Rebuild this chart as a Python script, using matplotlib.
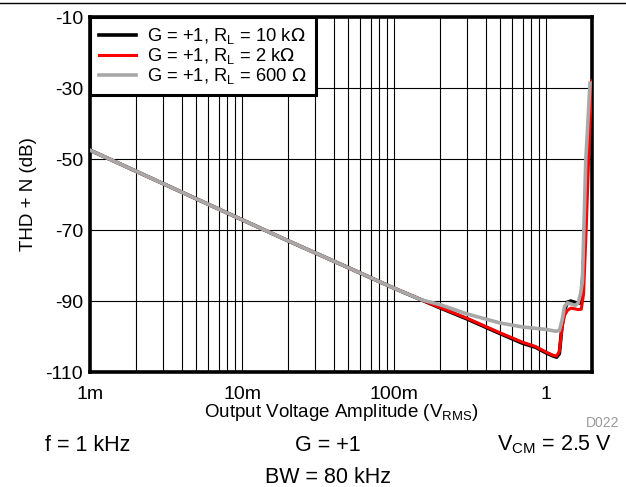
import matplotlib
matplotlib.use('Agg')
import matplotlib.pyplot as plt
from matplotlib.ticker import LogLocator, NullFormatter
import numpy as np

plt.rcParams['font.family'] = ['Liberation Sans', 'DejaVu Sans']
plt.rcParams['axes.unicode_minus'] = False

# common low-level part (all three loads overlap)
v_common = [0.001, 0.002, 0.005, 0.01, 0.02, 0.05, 0.1, 0.15]
thd_common = [-47.5, -53.4, -61.2, -67.1, -73.0, -80.6, -86.4, -89.6]

# R_L = 10 kOhm
v_10k = [0.2, 0.3, 0.5, 0.7, 0.85, 1.0, 1.1, 1.17, 1.22, 1.27, 1.32, 1.38, 1.45, 1.55, 1.62, 1.7, 1.78, 1.86, 1.94, 2.0]
thd_10k = [-91.9, -95.0, -99.2, -101.9, -103.0, -104.6, -105.4, -105.8, -104.8, -97.0, -92.5, -90.3, -90.0, -90.4, -90.6, -90.5, -75.0, -52.0, -34.0, -28.5]

# R_L = 2 kOhm
v_2k = [0.2, 0.3, 0.5, 0.7, 0.85, 1.0, 1.1, 1.17, 1.22, 1.27, 1.32, 1.38, 1.45, 1.55, 1.62, 1.7, 1.76, 1.83, 1.9, 1.96, 2.0]
thd_2k = [-91.8, -94.8, -99.0, -101.6, -102.8, -104.4, -105.2, -105.5, -104.2, -97.5, -94.0, -92.6, -92.0, -92.2, -92.4, -92.3, -88.0, -70.0, -50.0, -35.0, -28.0]

# R_L = 600 Ohm
v_600 = [0.2, 0.3, 0.5, 0.7, 1.0, 1.15, 1.22, 1.27, 1.32, 1.38, 1.45, 1.55, 1.62, 1.68, 1.73, 1.82, 1.9, 1.94]
thd_600 = [-91.0, -93.6, -96.2, -97.3, -98.0, -98.5, -98.3, -95.5, -91.5, -90.5, -90.8, -91.2, -90.6, -88.0, -84.4, -50.3, -36.0, -28.6]

fig = plt.figure(figsize=(6.26, 4.87), dpi=100)
ax = fig.add_axes([0.1438, 0.236, 0.8019, 0.729])

ax.plot(v_common + v_10k, thd_common + thd_10k, color='black', lw=2.6, label=r'G = +1, R$_\mathregular{L}$ = 10 k$\Omega$', zorder=3)
ax.plot(v_common + v_2k, thd_common + thd_2k, color='#ff0000', lw=2.2, label=r'G = +1, R$_\mathregular{L}$ = 2 k$\Omega$', zorder=4)
ax.plot(v_common + v_600, thd_common + thd_600, color='#a8a8a8', lw=2.6, label=r'G = +1, R$_\mathregular{L}$ = 600 $\Omega$', zorder=5)

ax.set_xscale('log')
ax.set_xlim(0.001, 2.0)
ax.set_ylim(-110, -10)
ax.set_yticks(np.arange(-110, -9, 20))
ax.set_xticks([0.001, 0.01, 0.1, 1])
ax.set_xticklabels(['1m', '10m', '100m', '1'])
ax.xaxis.set_minor_locator(LogLocator(base=10, subs=np.arange(2, 10), numticks=20))
ax.xaxis.set_minor_formatter(NullFormatter())
ax.grid(True, which='both', color='black', lw=0.8)
ax.tick_params(which='both', length=0, labelsize=14)
ax.tick_params(axis='y', pad=5)
ax.tick_params(axis='x', pad=10)
for s in ax.spines.values():
    s.set_linewidth(2.6)

ax.set_xlabel(r'Output Voltage Amplitude (V$_\mathregular{RMS}$)', fontsize=13.5, labelpad=-1)
ax.set_ylabel('THD + N (dB)', fontsize=13.5, labelpad=6)

leg = ax.legend(loc='upper left', fontsize=13.2, frameon=True, fancybox=False,
                borderaxespad=0, handlelength=2.0, handletextpad=0.6,
                labelspacing=0.0, borderpad=0.5)
leg.get_frame().set_edgecolor('black')
leg.get_frame().set_linewidth(2.2)
leg.get_frame().set_alpha(1)

fig.text(0.99, 0.131, 'D022', color='#999999', fontsize=10, ha='right', va='center')
fig.text(0.072, 0.086, 'f = 1 kHz', fontsize=15.5, ha='left', va='center')
fig.text(0.523, 0.086, 'G = +1', fontsize=15.5, ha='center', va='center')
fig.text(0.978, 0.086, r'V$_\mathregular{CM}$ = 2.5 V', fontsize=15.5, ha='right', va='center')
fig.text(0.524, 0.02, 'BW = 80 kHz', fontsize=15.5, ha='center', va='center')

fig.add_artist(plt.Line2D([0, 1], [0.993, 0.993], color='black', lw=1.0, transform=fig.transFigure))

fig.savefig('out.png', dpi=100)
